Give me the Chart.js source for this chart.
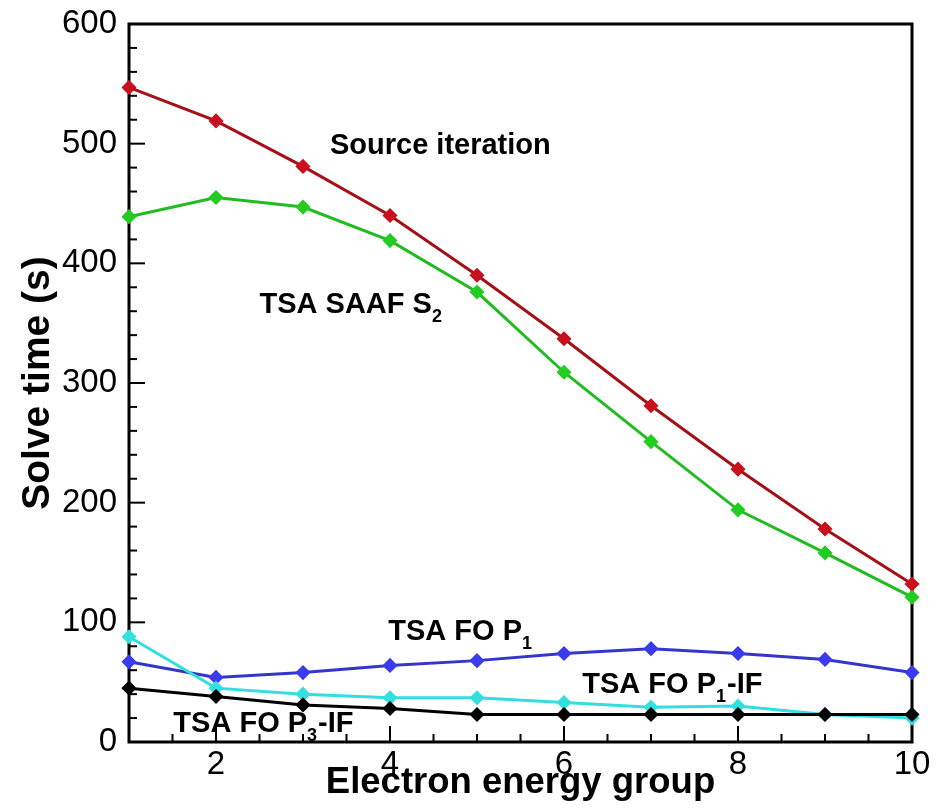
<!DOCTYPE html>
<html>
<head>
<meta charset="utf-8">
<title>Solve time per electron energy group</title>
<script src="https://cdn.jsdelivr.net/npm/chart.js@4.4.1/dist/chart.umd.min.js"></script>
<style>
  html, body { margin: 0; padding: 0; background: #fff; }
</style>
</head>
<body>
<canvas id="solveChart" width="944" height="812"></canvas>
<script>
// energy groups and solve times (s)
const groups = [1, 2, 3, 4, 5, 6, 7, 8, 9, 10];
const sourceIteration = [547, 519, 481, 440, 390, 337, 281, 228, 178, 132];
const saafS2 = [439, 455, 447, 419, 376, 309, 251, 194, 158, 121];
const foP1 = [67, 54, 58, 64, 68, 74, 78, 74, 69, 58];
const foP1IF = [88, 45, 40, 37, 37, 33, 29, 30, 23, 20];
const foP3IF = [45, 38, 31, 28, 23, 23, 23, 23, 23, 23];

const xTickValues = [2, 4, 6, 8, 10];
const yTickValues = [0, 100, 200, 300, 400, 500, 600];

const FONT = "'Liberation Sans', Arial, Helvetica, sans-serif";

function serie(valores, lineColor, pointColor) {
  return {
    data: valores.map((v, i) => ({ x: groups[i], y: v })),
    borderColor: lineColor,
    backgroundColor: pointColor,
    pointBackgroundColor: pointColor,
    pointBorderColor: pointColor,
    borderWidth: 3,
    pointStyle: "rectRot",
    pointRadius: 6.5,
    pointBorderWidth: 1.5,
    tension: 0,
    clip: false,
  };
}

// box around the plot + inward ticks (tecplot style)
const framePlugin = {
  id: "frame",
  beforeDatasetsDraw(chart) {
    const { ctx, chartArea: a, scales } = chart;
    ctx.save();
    ctx.strokeStyle = "#000";
    ctx.lineWidth = 2;
    // x ticks: major on even groups, minor every half group
    for (let v = 1.5; v < 10; v += 0.5) {
      const px = scales.x.getPixelForValue(v);
      const len = xTickValues.includes(v) ? 16 : 8;
      ctx.beginPath();
      ctx.moveTo(px, a.bottom);
      ctx.lineTo(px, a.bottom - len);
      ctx.stroke();
    }
    // y ticks: major every 100, minor every 20
    for (let v = 20; v < 600; v += 20) {
      const py = scales.y.getPixelForValue(v);
      const len = v % 100 === 0 ? 16 : 8;
      ctx.beginPath();
      ctx.moveTo(a.left, py);
      ctx.lineTo(a.left + len, py);
      ctx.stroke();
    }
    ctx.lineWidth = 3;
    ctx.strokeRect(a.left, a.top, a.right - a.left, a.bottom - a.top);
    ctx.restore();
  },
};

// curve names written inside the plot, with subscripts
const rotulos = [
  { x: 3.31, y: 500, parts: [["Source iteration", false]] },
  { x: 2.5, y: 367, parts: [["TSA SAAF S", false], ["2", true]] },
  { x: 3.98, y: 94, parts: [["TSA FO P", false], ["1", true]] },
  { x: 6.21, y: 50, parts: [["TSA FO P", false], ["1", true], ["-IF", false]] },
  { x: 1.51, y: 17, parts: [["TSA FO P", false], ["3", true], ["-IF", false]] },
];

const labelsPlugin = {
  id: "curveLabels",
  afterDatasetsDraw(chart) {
    const { ctx, scales } = chart;
    const size = 29;
    const subSize = 18;
    ctx.save();
    ctx.fillStyle = "#000";
    ctx.textBaseline = "alphabetic";
    ctx.textAlign = "left";
    rotulos.forEach((r) => {
      let px = scales.x.getPixelForValue(r.x);
      const base = scales.y.getPixelForValue(r.y) + size * 0.36;
      r.parts.forEach(([txt, sub]) => {
        ctx.font = `bold ${sub ? subSize : size}px ${FONT}`;
        ctx.fillText(txt, px, sub ? base + 9 : base);
        px += ctx.measureText(txt).width + (sub ? 1 : 0);
      });
    });
    ctx.restore();
  },
};

const ctx = document.getElementById("solveChart").getContext("2d");
new Chart(ctx, {
  type: "line",
  data: {
    datasets: [
      serie(foP3IF, "#000000", "#000000"),
      serie(foP1IF, "#33dde0", "#33e0e0"),
      serie(foP1, "#3535cc", "#3a3aee"),
      serie(saafS2, "#22bb22", "#22cc22"),
      serie(sourceIteration, "#a50f16", "#c8101e"),
    ],
  },
  options: {
    responsive: false,
    animation: false,
    layout: { padding: { top: 24, right: 32, left: 0, bottom: 0 } },
    plugins: {
      legend: { display: false },
      tooltip: { enabled: false },
    },
    scales: {
      x: {
        type: "linear",
        min: 1,
        max: 10,
        grid: { display: false, drawTicks: false },
        border: { display: false },
        afterBuildTicks: (s) => {
          s.ticks = xTickValues.map((v) => ({ value: v }));
        },
        afterFit: (s) => {
          s.height = 70;
        },
        ticks: {
          color: "#000",
          font: { family: FONT, size: 33 },
          padding: 3,
          maxRotation: 0,
          autoSkip: false,
        },
        title: {
          display: true,
          text: "Electron energy group",
          color: "#000",
          font: { family: FONT, size: 36.5, weight: "bold" },
          padding: { top: 0, bottom: 7 },
        },
      },
      y: {
        type: "linear",
        min: 0,
        max: 600,
        grid: { display: false, drawTicks: false },
        border: { display: false },
        afterBuildTicks: (s) => {
          s.ticks = yTickValues.map((v) => ({ value: v }));
        },
        afterFit: (s) => {
          s.width = 129;
          s.paddingTop = 0;
          s.paddingBottom = 0;
        },
        ticks: {
          color: "#000",
          font: { family: FONT, size: 33 },
          padding: 12,
          autoSkip: false,
        },
        title: {
          display: true,
          text: "Solve time (s)",
          color: "#000",
          font: { family: FONT, size: 39, weight: "bold" },
          padding: { top: 15, bottom: 0 },
        },
      },
    },
  },
  plugins: [framePlugin, labelsPlugin],
});
</script>
</body>
</html>
